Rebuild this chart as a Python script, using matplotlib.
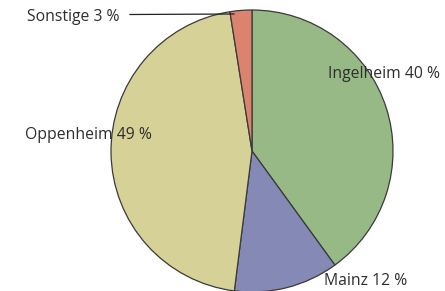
import matplotlib
matplotlib.use("Agg")
import matplotlib.pyplot as plt
from matplotlib import font_manager

categories = ["Ingelheim", "Mainz", "Oppenheim", "Sonstige"]
shares = [40, 12, 45.5, 2.5]          # drawn slice sizes
label_pcts = ["40 %", "12 %", "49 %", "3 %"]  # printed labels
colors = ["#97b985", "#8489b5", "#d6d196", "#dc8370"]

names = {f.name for f in font_manager.fontManager.ttflist}
fam = [f for f in ["Liberation Sans Narrow", "Open Sans", "DejaVu Sans"] if f in names]
plt.rcParams["font.family"] = fam

H = 291
fig = plt.figure(figsize=(4.45, 2.91), dpi=100)
ax = fig.add_axes([0, 0, 1, 1])
ax.pie(shares, colors=colors, startangle=90, counterclock=False,
       center=(252, H - 151), radius=141, frame=True,
       wedgeprops=dict(edgecolor="#3a3a3a", linewidth=0.9))
ax.set_xlim(0, 445)
ax.set_ylim(0, H)
ax.set_aspect("auto")
ax.axis("off")

tc = "#2e2e2e"
fs = 11.3
ax.text(328, H - 74, f"{categories[0]} {label_pcts[0]}", color=tc, fontsize=fs, va="center", ha="left")
ax.text(324, H - 281, f"{categories[1]} {label_pcts[1]}", color=tc, fontsize=fs, va="center", ha="left")
ax.text(25, H - 135, f"{categories[2]} {label_pcts[2]}", color=tc, fontsize=fs, va="center", ha="left")
ax.text(27, H - 17, f"{categories[3]} {label_pcts[3]}", color=tc, fontsize=fs, va="center", ha="left")
ax.plot([130, 234], [H - 14.5, H - 14], color="#222222", linewidth=0.9)

fig.savefig("out.png", dpi=100)
